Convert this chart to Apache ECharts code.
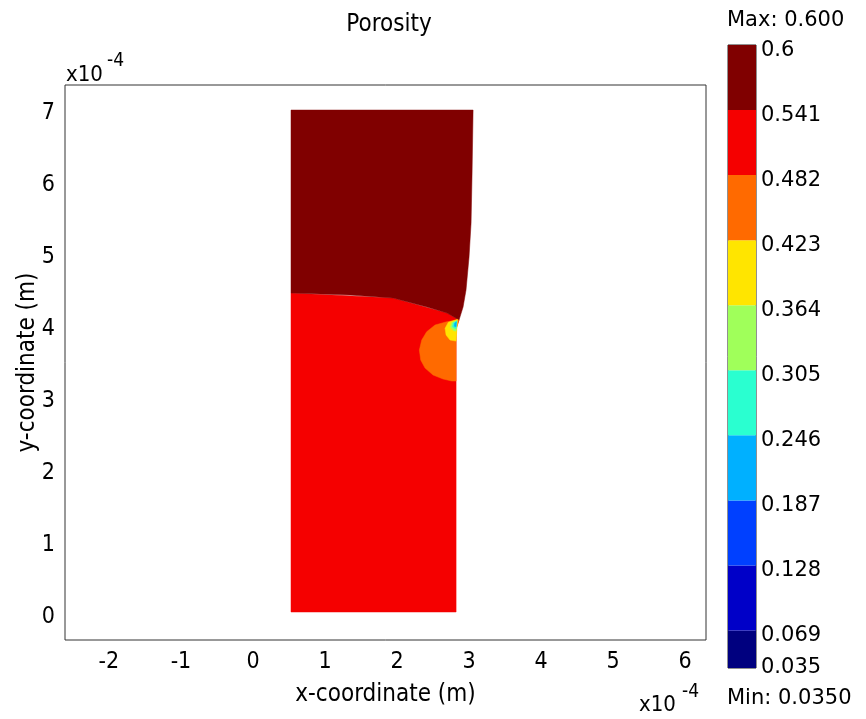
<!DOCTYPE html>
<html>
<head>
<meta charset="utf-8">
<script src="https://cdn.jsdelivr.net/npm/echarts@6/dist/echarts.min.js"></script>
<style>
html,body{margin:0;padding:0;background:#fff;}
#c{width:866px;height:719px;}
</style>
</head>
<body>
<div id="c"></div>
<script>
// ---- data (coordinates in units of 1e-4 m) ----
const xTicks = [-2, -1, 0, 1, 2, 3, 4, 5, 6];
const yTicks = [0, 1, 2, 3, 4, 5, 6, 7];
const xRange = [-2.61, 6.29];
const yRange = [-0.32, 7.39];

// colour bar
const levelEdges = [0.035, 0.069, 0.128, 0.187, 0.246, 0.305, 0.364, 0.423, 0.482, 0.541, 0.6];
const levelLabels = ['0.035', '0.069', '0.128', '0.187', '0.246', '0.305', '0.364', '0.423', '0.482', '0.541', '0.6'];
const levelColors = ['#00007f', '#0000c8', '#0040ff', '#00b0ff', '#2affd0', '#a0ff5a', '#ffe500', '#ff6a00', '#f50000', '#800000'];
const maxValue = 0.600;
const minValue = 0.0350;

// porosity regions (polygon outlines) and their porosity value
const redRegion = [[0.528, 0.069], [2.82, 0.069], [2.82, 4.0], [2.861, 4.125], [2.694, 4.222], [1.944, 4.431], [0.528, 4.5]];
const darkRedRegion = [[0.528, 7.042], [3.056, 7.042], [3.042, 6.167], [3.028, 5.472], [3.0, 5.0], [2.958, 4.542], [2.917, 4.306], [2.861, 4.125],
  [2.694, 4.222], [2.417, 4.306], [1.944, 4.431], [1.347, 4.472], [0.528, 4.5]];
const orangeRegion = [[2.861, 4.125], [2.69, 4.101], [2.528, 4.056], [2.412, 3.963], [2.343, 3.847], [2.31, 3.708], [2.329, 3.569], [2.389, 3.458],
  [2.5, 3.361], [2.639, 3.306], [2.76, 3.278], [2.82, 3.278], [2.82, 4.0]];
const yellowRegion = [[2.84, 4.135], [2.713, 4.095], [2.667, 4.01], [2.681, 3.917], [2.736, 3.847], [2.82, 3.833]];
const greenRegion = [[2.835, 4.12], [2.76, 4.09], [2.74, 4.02], [2.78, 3.98], [2.82, 3.97]];
const cyanRegion = [[2.83, 4.115], [2.78, 4.085], [2.77, 4.03], [2.82, 4.0]];
const blueRegion = [[2.825, 4.1], [2.8, 4.08], [2.795, 4.04], [2.82, 4.03]];
const regions = [
  { points: redRegion, value: 0.51 },
  { points: darkRedRegion, value: 0.57 },
  { points: orangeRegion, value: 0.45 },
  { points: yellowRegion, value: 0.39 },
  { points: greenRegion, value: 0.33 },
  { points: cyanRegion, value: 0.28 },
  { points: blueRegion, value: 0.21 }
];

function colorFor(v) {
  for (let i = 0; i < levelColors.length; i++) {
    if (v >= levelEdges[i] && v <= levelEdges[i + 1]) return levelColors[i];
  }
  return levelColors[levelColors.length - 1];
}

const FONT_AX = "'DejaVu Sans Condensed', 'Liberation Sans Narrow', 'DejaVu Sans', sans-serif";
const FONT_CB = "'DejaVu Sans', Verdana, sans-serif";

const chart = echarts.init(document.getElementById('c'), null, { renderer: 'canvas' });
chart.setOption({
  animation: false,
  backgroundColor: '#fff',
  title: {
    text: 'Porosity', left: 384, top: 8, textAlign: 'center',
    textStyle: { fontFamily: FONT_AX, fontSize: 24, fontWeight: 'normal', color: '#000' }
  },
  grid: [
    { left: 65, right: 160, top: 85, bottom: 79, show: true, borderColor: '#333', borderWidth: 1, backgroundColor: '#fff' },
    { left: 728, width: 28, top: 45, bottom: 51, show: true, borderColor: '#222', borderWidth: 1 }
  ],
  xAxis: [
    {
      type: 'value', gridIndex: 0, min: xRange[0], max: xRange[1],
      axisLine: { show: false }, axisTick: { show: false }, splitLine: { show: false },
      axisLabel: { customValues: xTicks, margin: 11, fontFamily: FONT_AX, fontSize: 23, color: '#000' },
      name: 'x-coordinate (m)', nameLocation: 'middle', nameGap: 43, nameMoveOverlap: false,
      nameTextStyle: { fontFamily: FONT_AX, fontSize: 24, color: '#000' }
    },
    { type: 'value', gridIndex: 1, min: 0, max: 1, show: false }
  ],
  yAxis: [
    {
      type: 'value', gridIndex: 0, min: yRange[0], max: yRange[1],
      axisLine: { show: false }, axisTick: { show: false }, splitLine: { show: false },
      axisLabel: { customValues: yTicks, margin: 10, fontFamily: FONT_AX, fontSize: 23, color: '#000' },
      name: 'y-coordinate (m)', nameLocation: 'middle', nameGap: 25, nameRotate: 90, nameMoveOverlap: false,
      nameTextStyle: { fontFamily: FONT_AX, fontSize: 24, color: '#000' }
    },
    {
      type: 'value', gridIndex: 1, position: 'right', min: levelEdges[0], max: levelEdges[levelEdges.length - 1],
      axisLine: { show: false }, axisTick: { show: false }, splitLine: { show: false },
      axisLabel: {
        customValues: levelEdges, margin: 5, fontFamily: FONT_CB, fontSize: 21, color: '#000',
        formatter: function (v) {
          const i = levelEdges.findIndex(e => Math.abs(e - v) < 1e-9);
          if (i < 0) return '';
          return i === 0 ? levelLabels[i] : '{s|' + levelLabels[i] + '}';
        },
        rich: { s: { fontFamily: FONT_CB, fontSize: 21, color: '#000', padding: [11, 0, 0, 0] } }
      }
    }
  ],
  graphic: [
    { type: 'text', left: 66, top: 64, style: { text: 'x10', font: "22px " + FONT_AX, fill: '#000' } },
    { type: 'text', left: 107, top: 52, style: { text: '-4', font: "19px " + FONT_AX, fill: '#000' } },
    { type: 'text', left: 639, top: 694, style: { text: 'x10', font: "22px " + FONT_AX, fill: '#000' } },
    { type: 'text', left: 682, top: 683, style: { text: '-4', font: "19px " + FONT_AX, fill: '#000' } },
    { type: 'text', left: 727, top: 10, style: { text: 'Max: ' + maxValue.toFixed(3), font: "21px " + FONT_CB, fill: '#000' } },
    { type: 'text', left: 727, top: 688, style: { text: 'Min: ' + minValue.toFixed(4), font: "21px " + FONT_CB, fill: '#000' } }
  ],
  series: [
    {
      type: 'custom', xAxisIndex: 0, yAxisIndex: 0, silent: true,
      data: regions.map((r, i) => [i]),
      renderItem: function (params, api) {
        const r = regions[api.value(0)];
        const pts = r.points.map(p => api.coord(p));
        return { type: 'polygon', shape: { points: pts }, style: { fill: colorFor(r.value), stroke: colorFor(r.value), lineWidth: 0.5 } };
      }
    },
    {
      type: 'custom', xAxisIndex: 1, yAxisIndex: 1, silent: true,
      data: levelColors.map((c, i) => [i]),
      renderItem: function (params, api) {
        const i = api.value(0);
        const p0 = api.coord([0, levelEdges[i + 1]]);
        const p1 = api.coord([1, levelEdges[i]]);
        return { type: 'rect', shape: { x: p0[0], y: p0[1], width: p1[0] - p0[0], height: p1[1] - p0[1] }, style: { fill: levelColors[i] } };
      }
    }
  ]
});
</script>
</body>
</html>
